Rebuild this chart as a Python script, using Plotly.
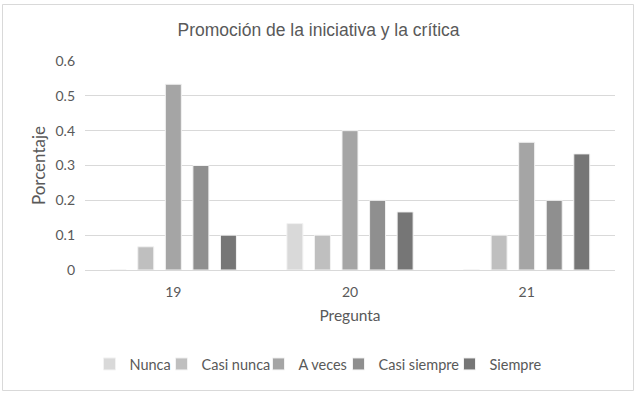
import plotly.graph_objects as go

categories = ["19", "20", "21"]
series_names = ["Nunca", "Casi nunca", "A veces", "Casi siempre", "Siempre"]
nunca = [0, 0.1333, 0]
casi_nunca = [0.0667, 0.1, 0.1]
a_veces = [0.5333, 0.4, 0.3667]
casi_siempre = [0.3, 0.2, 0.2]
siempre = [0.1, 0.1667, 0.3333]
y_ticks = [0, 0.1, 0.2, 0.3, 0.4, 0.5, 0.6]
y_tick_labels = ["0", "0.1", "0.2", "0.3", "0.4", "0.5", "0.6"]

values = [nunca, casi_nunca, a_veces, casi_siempre, siempre]
colors = ["#d9d9d9", "#bfbfbf", "#a5a5a5", "#8f8f8f", "#767676"]
legend_widths = [27, 52, 35, 66, 52]

fig = go.Figure()
for name, vals, col, lw in zip(series_names, values, colors, legend_widths):
    fig.add_trace(go.Bar(
        x=categories, y=vals, name=name, legendwidth=lw,
        marker=dict(color=col, line=dict(color="#f2f2f2", width=1)),
    ))

W, H = 637, 394
ml, mr, mt, mb = 85, 22, 61, 124
pw, ph = W - ml - mr, H - mt - mb

def px(x):
    return (x - ml) / pw

def py(y):
    return (H - mb - y) / ph

font_family = "Lato, Open Sans, sans-serif"
fig.update_layout(
    width=W, height=H,
    margin=dict(l=ml, r=mr, t=mt, b=mb, autoexpand=False),
    paper_bgcolor="white", plot_bgcolor="white",
    barmode="group", bargap=0.22, bargroupgap=0.42,
    font=dict(family=font_family, color="#595959", size=14),
    title=dict(text="Promoción de la iniciativa y la crítica",
               x=0.5, xanchor="center", y=1 - 30 / H, yanchor="middle",
               font=dict(family="Liberation Sans, Arial, sans-serif", size=17.5, color="#595959")),
    xaxis=dict(type="category", showgrid=False, showline=True, linecolor="#d9d9d9",
               linewidth=1, ticks="", tickfont=dict(size=14, color="#595959"),
               ticklabelstandoff=9,
               title=dict(text="Pregunta", font=dict(size=15.5, color="#595959"), standoff=11)),
    yaxis=dict(range=[0, 0.6], tickvals=y_ticks, ticktext=y_tick_labels,
               showgrid=True, gridcolor="#d9d9d9", gridwidth=1, zeroline=False,
               showline=False, ticks="", ticklen=0, ticklabelstandoff=9,
               tickfont=dict(size=14, color="#595959"),
               title=dict(text="Porcentaje", font=dict(size=17, color="#595959"), standoff=5)),
    legend=dict(orientation="h", x=px(89.5), xanchor="left", y=py(364), yanchor="middle",
                font=dict(size=14.5, color="#595959"), traceorder="normal",
                itemwidth=30, borderwidth=0),
    shapes=[dict(type="rect", xref="paper", yref="paper",
                 x0=px(2.5), x1=px(633.5), y0=py(390.5), y1=py(4.5),
                 line=dict(color="#d9d9d9", width=1), fillcolor="rgba(0,0,0,0)", layer="below")],
)

fig.write_html("out.html", config={"displayModeBar": False},
               post_script="document.body.style.margin='0';document.body.style.padding='0';")
